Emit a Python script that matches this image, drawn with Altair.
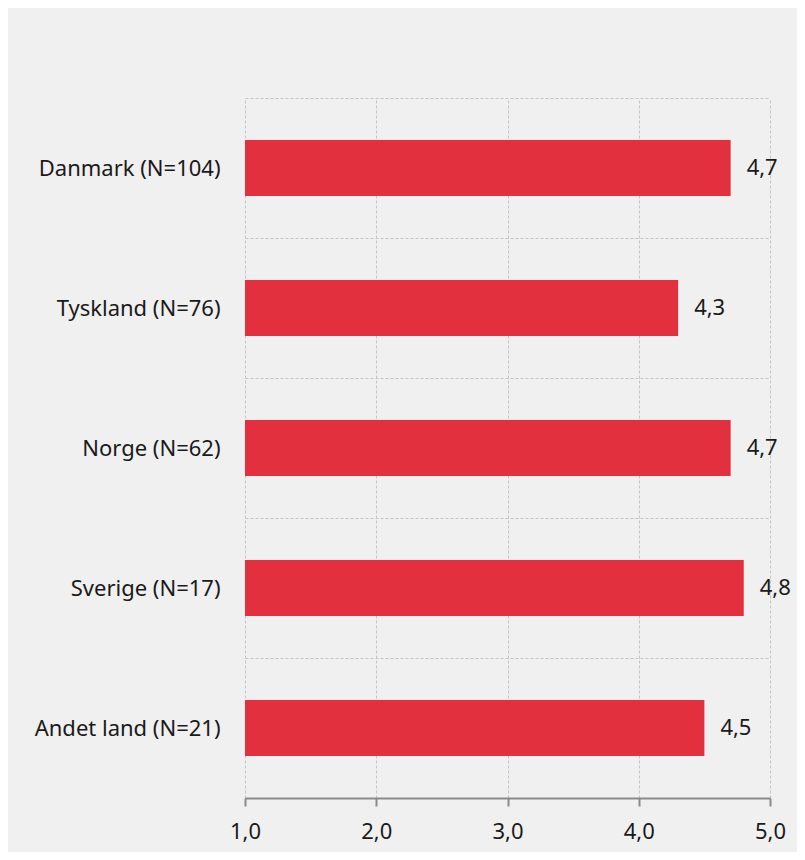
import altair as alt
import pandas as pd

countries = ["Danmark (N=104)", "Tyskland (N=76)", "Norge (N=62)", "Sverige (N=17)", "Andet land (N=21)"]
values = [4.7, 4.3, 4.7, 4.8, 4.5]
x_ticks = [1, 2, 3, 4, 5]

df = pd.DataFrame({"land": countries, "value": values})

FONT = "Noto Sans"
RED = "#e2303e"
FS = 22

y = alt.Y("land:N", sort=countries, title=None,
          scale=alt.Scale(paddingInner=0, paddingOuter=0),
          axis=alt.Axis(domain=False, ticks=False, labelPadding=25, labelFontSize=FS,
                        labelFont=FONT, labelColor="#1a1a1a", grid=True, tickBand="extent",
                        gridDash=[3, 2], gridColor="#c4c4c4", gridWidth=1, labelLimit=400))
x = alt.X("value:Q", title=None,
          scale=alt.Scale(domain=[1, 5], zero=False, nice=False),
          axis=alt.Axis(values=x_ticks, labelExpr="replace(format(datum.value, '.1f'), '.', ',')",
                        domainColor="#8a8a8a", domainWidth=2, tickColor="#8a8a8a", tickWidth=2,
                        tickSize=8, labelPadding=15, labelFontSize=FS, labelFont=FONT,
                        labelAlign="center", labelFlush=False,
                        labelColor="#1a1a1a", grid=True, gridDash=[3, 2], gridColor="#c4c4c4"))

base = alt.Chart(df)
bars = base.mark_bar(color=RED, size=56).encode(x=x, x2=alt.datum(1), y=y)
labels = base.mark_text(align="left", baseline="middle", dx=16, fontSize=FS, font=FONT,
                        color="#1a1a1a").transform_calculate(
    lbl="replace(format(datum.value, '.1f'), '.', ',')"
).encode(x=alt.X("value:Q"), y=alt.Y("land:N", sort=countries), text="lbl:N")

chart = (bars + labels).properties(
    width=525, height=700, background="#f0f0f0",
    autosize=alt.AutoSizeParams(type="none"),
    padding={"left": 237, "top": 90, "right": 27, "bottom": 54},
).configure_view(stroke=None)

chart.save("out.html", embed_options={"renderer": "svg", "actions": False})
